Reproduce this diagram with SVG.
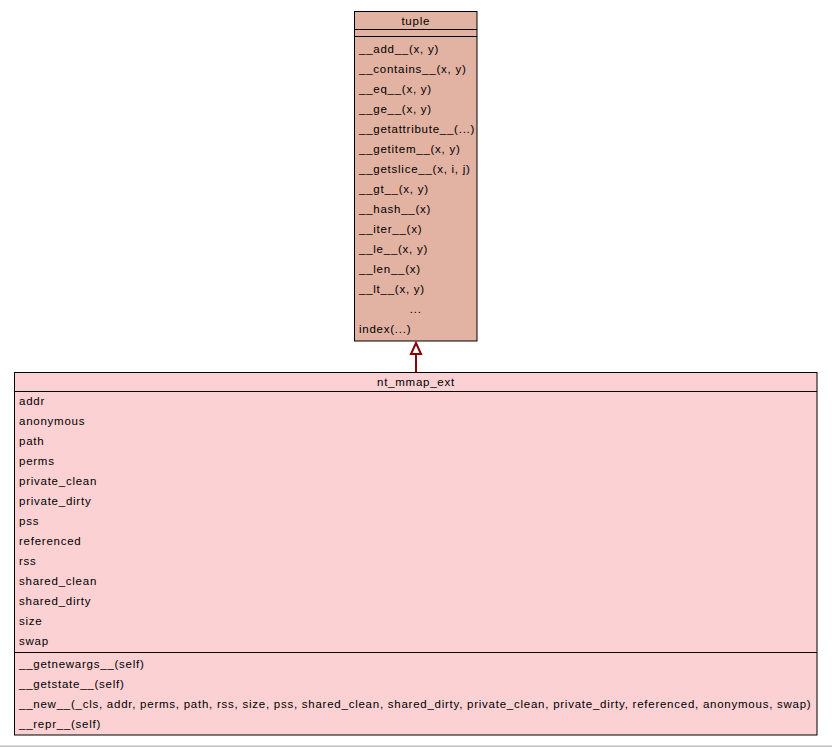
<svg xmlns="http://www.w3.org/2000/svg" width="832" height="747" viewBox="0 0 832 747">
<style>
text{font-family:"Liberation Sans",Arial,sans-serif;font-size:11.5px;letter-spacing:0.75px;fill:#000}
.c{text-anchor:middle}
.box{stroke:#000;stroke-width:1}
</style>
<rect width="832" height="747" fill="#fff"/>
<rect x="0" y="745.5" width="832" height="1.5" fill="#c0c0c0"/>
<g id="tuple">
<rect class="box" x="354.5" y="11.5" width="122.5" height="329.5" fill="#e2b2a2"/>
<line class="box" x1="354.5" y1="29.5" x2="477" y2="29.5"/>
<line class="box" x1="354.5" y1="36.5" x2="477" y2="36.5"/>
<text class="c" x="415.75" y="25">tuple</text>
<text x="359" y="53">__add__(x, y)</text>
<text x="359" y="73">__contains__(x, y)</text>
<text x="359" y="93">__eq__(x, y)</text>
<text x="359" y="113">__ge__(x, y)</text>
<text x="359" y="133">__getattribute__(...)</text>
<text x="359" y="153">__getitem__(x, y)</text>
<text x="359" y="173">__getslice__(x, i, j)</text>
<text x="359" y="193">__gt__(x, y)</text>
<text x="359" y="213">__hash__(x)</text>
<text x="359" y="233">__iter__(x)</text>
<text x="359" y="253">__le__(x, y)</text>
<text x="359" y="273">__len__(x)</text>
<text x="359" y="293">__lt__(x, y)</text>
<text class="c" x="415.75" y="313">...</text>
<text x="359" y="333">index(...)</text>
</g>
<g id="nt_mmap_ext">
<rect class="box" x="14.5" y="372.5" width="802.5" height="362.5" fill="#fbd1d3"/>
<line class="box" x1="14.5" y1="391.5" x2="817" y2="391.5"/>
<line class="box" x1="14.5" y1="652.5" x2="817" y2="652.5"/>
<text class="c" x="416" y="386">nt_mmap_ext</text>
<text x="19" y="405">addr</text>
<text x="19" y="425">anonymous</text>
<text x="19" y="445">path</text>
<text x="19" y="465">perms</text>
<text x="19" y="485">private_clean</text>
<text x="19" y="505">private_dirty</text>
<text x="19" y="525">pss</text>
<text x="19" y="545">referenced</text>
<text x="19" y="565">rss</text>
<text x="19" y="585">shared_clean</text>
<text x="19" y="605">shared_dirty</text>
<text x="19" y="625">size</text>
<text x="19" y="645">swap</text>
<text x="19" y="668">__getnewargs__(self)</text>
<text x="19" y="688">__getstate__(self)</text>
<text x="19" y="708">__new__(_cls, addr, perms, path, rss, size, pss, shared_clean, shared_dirty, private_clean, private_dirty, referenced, anonymous, swap)</text>
<text x="19" y="728">__repr__(self)</text>
</g>
<g id="connectors">
<line x1="416" y1="354" x2="416" y2="372" stroke="#8b0000" stroke-width="2"/>
<polygon points="416,343 411,354 421,354" fill="#fff" stroke="#8b0000" stroke-width="2"/>
</g>
</svg>
